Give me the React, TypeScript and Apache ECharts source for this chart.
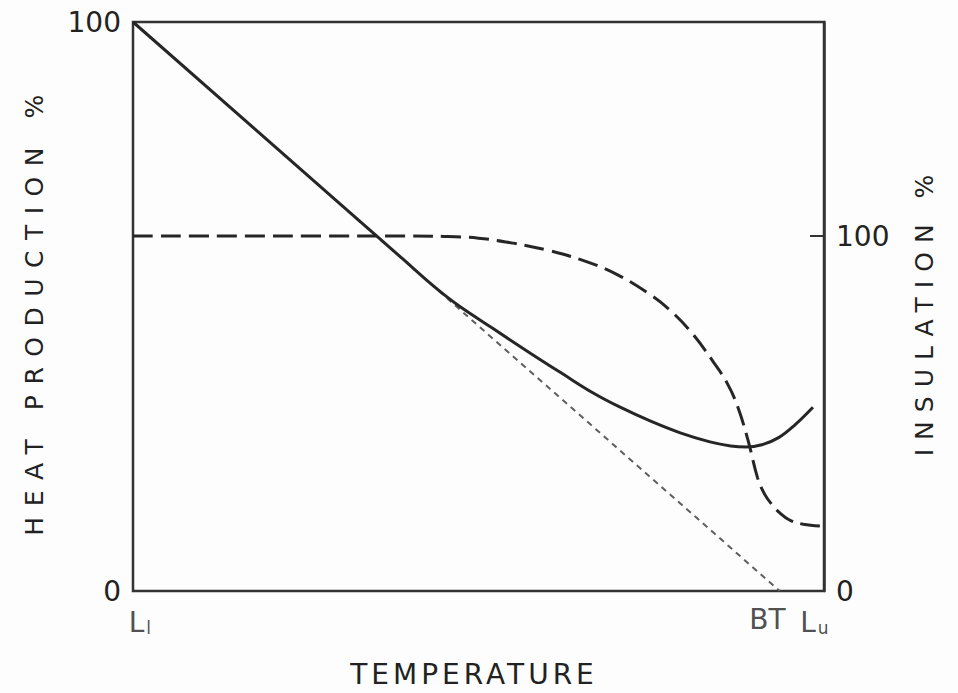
import React, { useEffect, useRef } from "react";
import * as echarts from "echarts";

// Heat production (left axis, %) vs temperature (0 = L_l ... 100 = right frame)
const heatTemp = [0, 30, 39, 43, 45.2, 47.3, 52, 57.5, 62, 66.6, 70.5, 75, 79.2, 83.5, 86.5, 88.7, 91, 93.5, 95.8, 98.4];
const heatValue = [100, 68.0, 58.4, 54.1, 51.9, 50.0, 46.2, 41.8, 38.3, 34.8, 32.3, 29.8, 27.8, 26.2, 25.5, 25.3, 25.7, 27.0, 29.2, 32.3];

// Insulation (right axis, %)
const insulTemp = [0, 40, 45, 50, 55, 60, 65, 70, 75, 78, 81, 84, 86, 87.5, 89, 90.4, 91.4, 92.4, 93.6, 95, 97, 99.4];
const insulValue = [100, 100, 99.9, 99.4, 98.0, 96.0, 93.2, 89.2, 83.3, 78.6, 72.4, 64.5, 58.5, 52.0, 42.5, 31.8, 27.3, 24.5, 22.0, 20.0, 18.8, 18.3];

// Extrapolated straight line (thin dashes)
const lineTemp = [0, 93.6];
const lineValue = [100, 0];

// Temperature tick labels
const tempTickNames = ["L_l", "BT", "L_u"];
const tempTickValues = [1.0, 91.8, 98.6];

const leftTicks = [0, 100];
const rightTicks = [0, 100];
const rightAxisMax = 160.3;

const titles = {
  x: "TEMPERATURE",
  left: "HEAT PRODUCTION %",
  right: "INSULATION %",
};
const spacing: Record<string, number> = {
  [titles.x]: 4,
  [titles.left]: 10.5,
  [titles.right]: 9,
};

const ink = "#262626";
const textInk = "#222";
const font = "'DejaVu Sans', sans-serif";

export default function App() {
  const ref = useRef<HTMLDivElement>(null);
  useEffect(() => {
    if (!ref.current) return;
    const chart = echarts.init(ref.current, undefined, { renderer: "svg" });
    const zip = (a: number[], b: number[]) => a.map((v, i) => [v, b[i]]);
    chart.setOption({
      animation: false,
      backgroundColor: "#fdfdfd",
      grid: {
        left: 133,
        right: 134,
        top: 22,
        bottom: 102,
        show: true,
        borderColor: "#333",
        borderWidth: 2.5,
        backgroundColor: "transparent",
      },
      xAxis: {
        type: "value",
        min: 0,
        max: 100,
        axisLine: { show: false },
        axisTick: { show: false },
        axisLabel: { show: false },
        splitLine: { show: false },
      },
      yAxis: [
        {
          type: "value",
          min: 0,
          max: 100,
          interval: 100,
          axisLine: { show: false },
          axisTick: { show: false },
          splitLine: { show: false },
          axisLabel: {
            fontSize: 28,
            fontFamily: font,
            color: textInk,
            margin: 12,
            formatter: (v: number) => (leftTicks.includes(v) ? String(v) : ""),
          },
        },
        {
          type: "value",
          position: "right",
          min: 0,
          max: rightAxisMax,
          interval: 100,
          axisLine: { show: true, lineStyle: { color: "#333", width: 2.5 } },
          axisTick: { show: true, inside: true, length: 14, lineStyle: { color: "#333", width: 2 } },
          splitLine: { show: false },
          axisLabel: {
            fontSize: 28,
            fontFamily: font,
            color: textInk,
            margin: 12,
            showMaxLabel: false,
            formatter: (v: number) => (rightTicks.includes(v) ? String(v) : ""),
          },
        },
      ],
      series: [
        {
          type: "line",
          yAxisIndex: 0,
          data: zip(lineTemp, lineValue),
          symbol: "none",
          lineStyle: { color: "#5e5e5e", width: 2, type: [6, 5] },
          z: 1,
        },
        {
          type: "line",
          yAxisIndex: 0,
          data: zip(heatTemp, heatValue),
          symbol: "none",
          smooth: 0.4,
          lineStyle: { color: ink, width: 3 },
          z: 3,
        },
        {
          type: "line",
          yAxisIndex: 1,
          data: zip(insulTemp, insulValue),
          symbol: "none",
          smooth: 0.4,
          lineStyle: { color: ink, width: 3, type: [20, 8] },
          z: 2,
        },
        {
          type: "scatter",
          yAxisIndex: 0,
          symbolSize: 0,
          silent: true,
          data: tempTickValues.map((v, i) => ({ value: [v, 0], name: tempTickNames[i] })),
          label: {
            show: true,
            position: "bottom",
            distance: 14,
            formatter: (p: any) => {
              const [main, sub] = String(p.name).split("_");
              return sub ? `{m|${main}}{s|${sub}}` : `{m|${main}}`;
            },
            rich: {
              m: { fontSize: 28, fontFamily: font, color: textInk, verticalAlign: "bottom" },
              s: { fontSize: 17, fontFamily: font, color: textInk, padding: [14, 0, 0, 2], verticalAlign: "bottom" },
            },
          },
        },
      ],
      graphic: [
        {
          type: "text",
          x: 474,
          y: 674,
          style: {
            text: titles.x,
            fontSize: 28,
            fontFamily: font,
            fill: textInk,
            textAlign: "center",
            textVerticalAlign: "middle",
          },
        },
        {
          type: "text",
          x: 34,
          y: 310,
          rotation: Math.PI / 2,
          style: {
            text: titles.left,
            fontSize: 25,
            fontFamily: font,
            fill: textInk,
            textAlign: "center",
            textVerticalAlign: "middle",
          },
        },
        {
          type: "text",
          x: 924,
          y: 311,
          rotation: Math.PI / 2,
          style: {
            text: titles.right,
            fontSize: 25,
            fontFamily: font,
            fill: textInk,
            textAlign: "center",
            textVerticalAlign: "middle",
          },
        },
      ],
    });
    const applySpacing = () => {
      const svg = ref.current?.querySelector("svg");
      svg?.querySelectorAll("text").forEach((t) => {
        const s = spacing[t.textContent || ""];
        if (s != null) t.setAttribute("letter-spacing", String(s));
      });
    };
    applySpacing();
    chart.on("finished", applySpacing);
    const timer = setTimeout(applySpacing, 50);
    return () => {
      clearTimeout(timer);
      chart.dispose();
    };
  }, []);
  return (
    <div
      ref={ref}
      style={{ position: "fixed", left: 0, top: 0, width: 958, height: 693 }}
    />
  );
}
